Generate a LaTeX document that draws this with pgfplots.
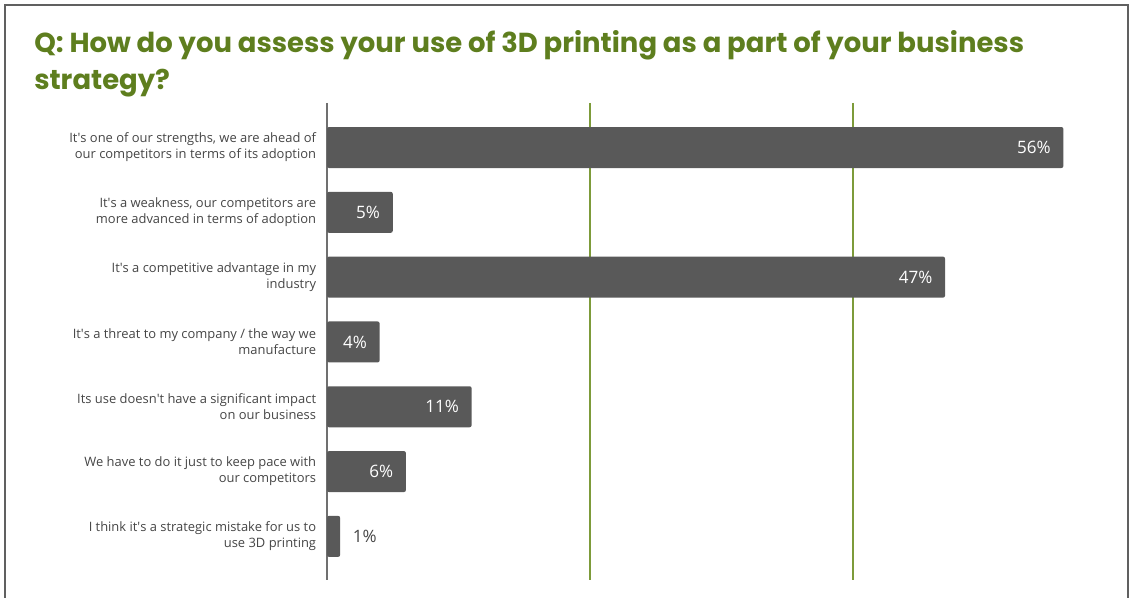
\documentclass[border=0pt]{standalone}
\usepackage{pgfplots}
\pgfplotsset{compat=1.18}
\usepackage{fontspec}
\setmainfont{Open Sans}
\newfontfamily\titlefont{Poppins}
\definecolor{titlegreen}{HTML}{5E7E1E}
\definecolor{gridgreen}{HTML}{7D9B3A}
\definecolor{barcol}{HTML}{595959}
\definecolor{labelcol}{HTML}{454545}
\definecolor{framecol}{HTML}{606060}
\definecolor{axiscol}{HTML}{707070}
\newcommand{\ap}{\textquotesingle}
\begin{document}
\begin{tikzpicture}
\useasboundingbox (0,0) rectangle (851.25pt,448.5pt);
\draw[framecol, line width=1.5pt] (3.75pt,-10pt) -- (3.75pt,444.75pt) -- (846pt,444.75pt) -- (846pt,-10pt);
\node[anchor=base west, inner sep=0pt, font=\titlefont\bfseries\fontsize{20.6}{24}\selectfont, text=titlegreen] at (25.5pt,408.75pt) {Q: How do you assess your use of 3D printing as a part of your business};
\node[anchor=base west, inner sep=0pt, font=\titlefont\bfseries\fontsize{20.6}{24}\selectfont, text=titlegreen] at (25.5pt,381pt) {strategy?};
\begin{axis}[
  at={(245.25pt,13.5pt)}, anchor=south west,
  scale only axis, width=591.75pt, height=357.75pt,
  xbar, bar shift=0pt, bar width=30.75pt,
  xmin=0, xmax=60, ymin=-0.687, ymax=6.673, y dir=reverse,
  ytick={0,1,2,3,4,5,6},
  yticklabels={
    {It\ap s one of our strengths, we are ahead of\\our competitors in terms of its adoption},
    {It\ap s a weakness, our competitors are\\more advanced in terms of adoption},
    {It\ap s a competitive advantage in my\\industry},
    {It\ap s a threat to my company / the way we\\manufacture},
    {Its use doesn\ap t have a significant impact\\on our business},
    {We have to do it just to keep pace with\\our competitors},
    {I think it\ap s a strategic mistake for us to\\use 3D printing}},
  yticklabel style={align=right, font=\fontsize{9.7}{12}\selectfont, text=labelcol, inner sep=0pt, xshift=-8pt},
  xtick={20,40}, xticklabels={},
  xmajorgrids, major grid style={gridgreen, line width=1.2pt},
  major tick length=0pt,
  axis x line*=bottom, x axis line style={draw=none},
  axis y line*=left, y axis line style={axiscol, line width=1.5pt},
  nodes near coords={\pgfmathprintnumber[assume math mode=true]{\pgfplotspointmeta}\%},
  point meta=x,
]
\addplot[fill=barcol, draw=none, rounded corners=1.5pt, nodes near coords style={anchor=east, text=white, font=\fontsize{12.8}{14}\selectfont, xshift=-6pt}] coordinates {(56,0) (5,1) (47,2) (4,3) (11,4) (6,5)};
\addplot[fill=barcol, draw=none, rounded corners=1.5pt, nodes near coords style={anchor=west, text=labelcol, font=\fontsize{12.8}{14}\selectfont, xshift=6pt}] coordinates {(1,6)};
\end{axis}
\end{tikzpicture}
\end{document}
